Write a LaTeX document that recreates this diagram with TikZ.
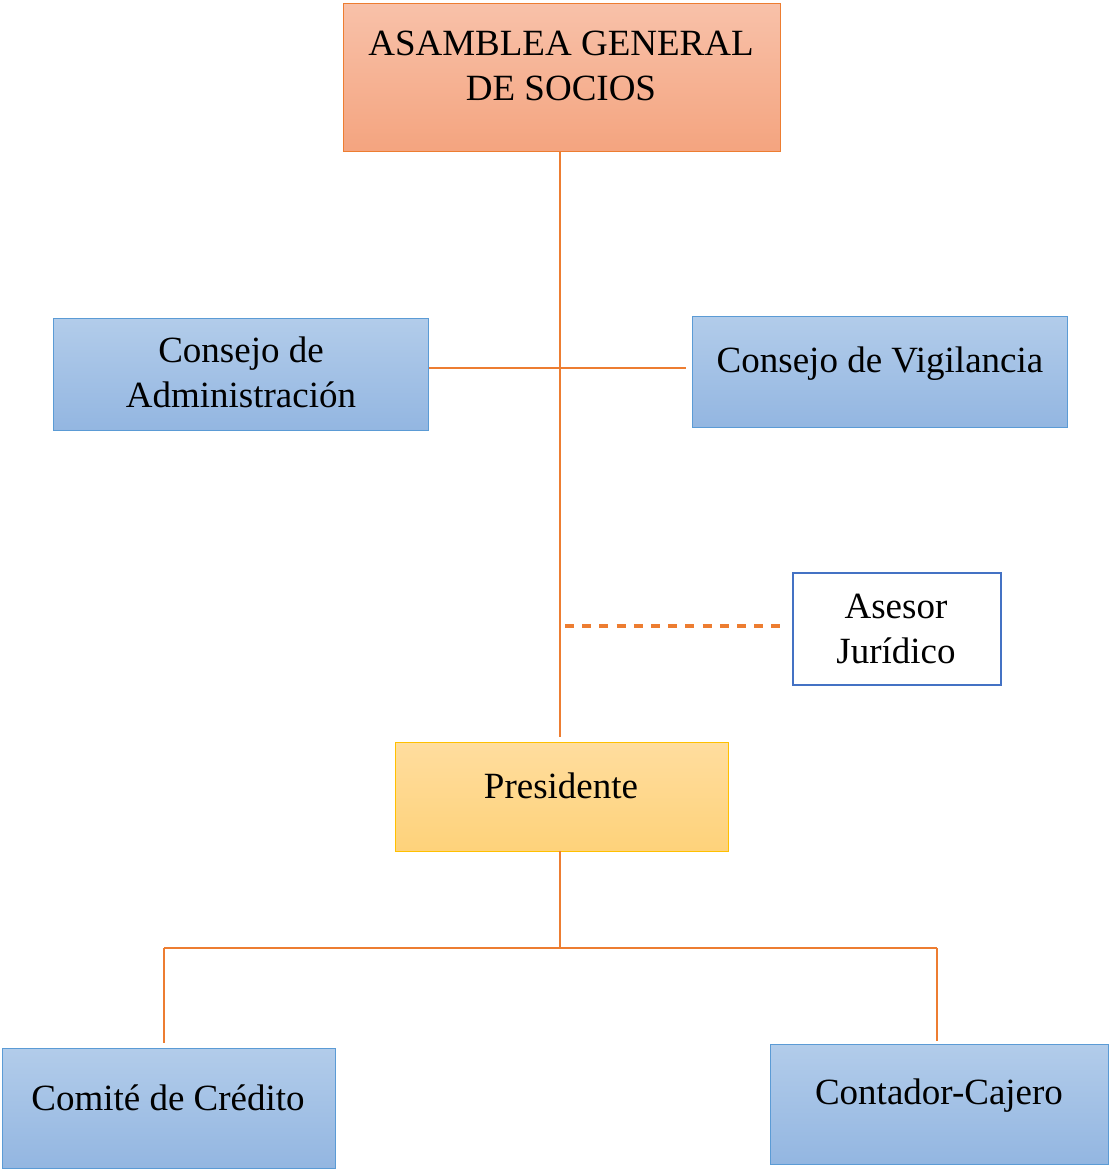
\documentclass[tikz,border=0pt]{standalone}
\usepackage{fontspec}
\setmainfont{Liberation Serif}
\begin{document}
\definecolor{lineor}{HTML}{ED7D31}
\definecolor{orTop}{HTML}{F8C1A9}
\definecolor{orBot}{HTML}{F4A47F}
\definecolor{blTop}{HTML}{B2CCEA}
\definecolor{blBot}{HTML}{93B6E1}
\definecolor{blEdge}{HTML}{5B9BD5}
\definecolor{asEdge}{HTML}{4472C4}
\definecolor{yeTop}{HTML}{FFDD9E}
\definecolor{yeBot}{HTML}{FED27A}
\definecolor{yeEdge}{HTML}{FFC000}
\begin{tikzpicture}[x=1pt,y=-1pt,
  box/.style={draw, line width=1.2pt, inner sep=0pt, anchor=north west},
  bluebox/.style={box, draw=blEdge, top color=blTop, bottom color=blBot},
  lbl/.style={font=\fontsize{37}{45}\selectfont, align=center, inner sep=0pt},
  link/.style={draw=lineor, line width=1.3pt}]
\useasboundingbox[fill=white] (0,0) rectangle (1110,1170);

% boxes
\node[box, draw=lineor, top color=orTop, bottom color=orBot,
      minimum width=437pt, minimum height=148pt] (asamblea) at (343,3) {};
\node[bluebox, minimum width=375pt, minimum height=112pt] (admin) at (53,318) {};
\node[bluebox, minimum width=375pt, minimum height=111pt] (vigil) at (692,316) {};
\node[box, draw=asEdge, fill=white, line width=2pt,
      minimum width=208pt, minimum height=112pt] (asesor) at (792,572) {};
\node[box, draw=yeEdge, top color=yeTop, bottom color=yeBot,
      minimum width=333pt, minimum height=109pt] (pres) at (395,742) {};
\node[bluebox, minimum width=333pt, minimum height=120pt] (comite) at (2,1048) {};
\node[bluebox, minimum width=338pt, minimum height=120pt] (contador) at (770,1044) {};

% labels
\node[lbl] (tAsamblea) at (561,66) {ASAMBLEA GENERAL\\DE SOCIOS};
\node[lbl] (tAdmin) at (241,372) {Consejo de\\Administración};
\node[lbl] (tVigil) at (880,364) {Consejo de Vigilancia};
\node[lbl] (tAsesor) at (896,629) {Asesor\\Jurídico};
\node[lbl] (tPres) at (561,786) {Presidente};
\node[lbl] (tComite) at (168,1098) {Comité de Crédito};
\node[lbl] (tContador) at (939,1096) {Contador-Cajero};

% connectors
\coordinate (spine) at (560,368);
\coordinate (presTop) at (560,737);
\coordinate (presBot) at (560,851);
\coordinate (fork) at (560,948);
\coordinate (vigilEnd) at (686,368);
\coordinate (dashL) at (565,626);
\coordinate (dashR) at (780,626);
\coordinate (forkL) at (164,948);
\coordinate (forkR) at (937,948);
\coordinate (comTop) at (164,1043);
\coordinate (conTop) at (937,1041);

\draw[link] (asamblea.south -| presTop) -- (presTop);
\draw[link] (admin.east |- spine) -- (vigilEnd);
\draw[draw=lineor, line width=3.5pt, dash pattern=on 9pt off 8.2pt] (dashL) -- (dashR);
\draw[link] (presBot) -- (fork);
\draw[link] (forkL) -- (forkR);
\draw[link] (forkL) -- (comTop);
\draw[link] (forkR) -- (conTop);
\end{tikzpicture}
\end{document}
